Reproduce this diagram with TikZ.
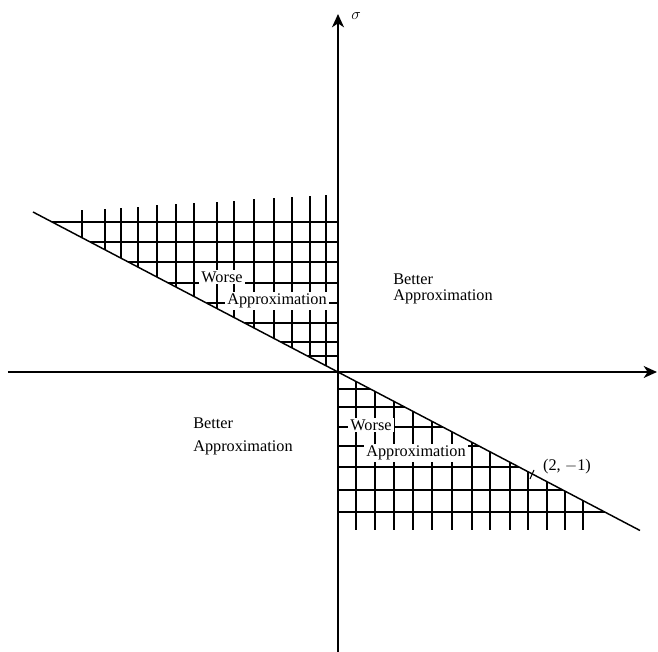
\documentclass[tikz,border=0pt]{standalone}
\usepackage{fontspec}
\setmainfont{Liberation Serif}
\usepackage{tikz}
\usetikzlibrary{arrows.meta, positioning}

\begin{document}
\begin{tikzpicture}[
    x=0.75pt, y=0.75pt,
    axis/.style={line width=1.1pt, -{Stealth[length=10pt, width=9pt, inset=3pt]}},
    hatchline/.style={line width=0.8pt},
    cutlabel/.style={fill=white, inner sep=1.5pt, font=\fontsize{12.2}{14}\selectfont},
    region/.style={inner sep=0pt, anchor=west, font=\fontsize{12.2}{14}\selectfont}
  ]
  \useasboundingbox (-338,-280) rectangle (320,372);
  \coordinate (O) at (0,0);
  \coordinate (west) at (-330,0);
  \coordinate (east) at (319,0);
  \coordinate (south) at (0,-280);
  \coordinate (north) at (0,358);
  \coordinate (A) at (-305,160);
  \coordinate (B) at (302,-158.5);

  % hatching, upper left
  \foreach \h in {150,130,110,89,69,49,30,16}
    \draw[hatchline] ({-\h/0.525},\h) -- (0,\h);
  \foreach \x in {-256,-233,-217,-200,-181,-162,-144,-121,-104,-84,-64,-46,-28,-12}
    \draw[hatchline] (\x,{-0.525*\x}) -- (\x,{177+0.062*(\x+12)});

  % hatching, lower right
  \foreach \h in {17,35,55,74,95,118,140}
    \draw[hatchline] (0,-\h) -- ({\h/0.525},-\h);
  \foreach \x in {18,37,56,75,94,114,134,152,172,190,209,227,245}
    \draw[hatchline] (\x,{-0.525*\x}) -- (\x,-158);

  \node[cutlabel] (worseUp) at (-116,95) {Worse};
  \node[cutlabel] (approxUp) at (-61,71) {Approximation};
  \node[cutlabel] (worseDown) at (33,-53) {Worse};
  \node[cutlabel] (approxDown) at (78,-81) {Approximation};

  \node[region] (betterR) at (55,93) {Better};
  \node[region] (approxR) at (55,75) {Approximation};
  \node[region] (betterL) at (-145,-51) {Better};
  \node[region] (approxL) at (-145,-76) {Approximation};

  % axes and boundary line
  \draw[line width=1.1pt] (A) -- (B);
  \draw[axis] (west) -- (east);
  \draw[axis] (south) -- (north);
  \node (sigma) at (18,356) {\large$\sigma$};

  \coordinate (P) at (194,-102);
  \draw[line width=0.8pt] ([shift={(-2,-5)}]P) -- ([shift={(2,4)}]P);
  \node[inner sep=0pt] (Plabel) at (229,-95) {\fontsize{12.2}{14}\selectfont (2, $-$1)};
\end{tikzpicture}
\end{document}
